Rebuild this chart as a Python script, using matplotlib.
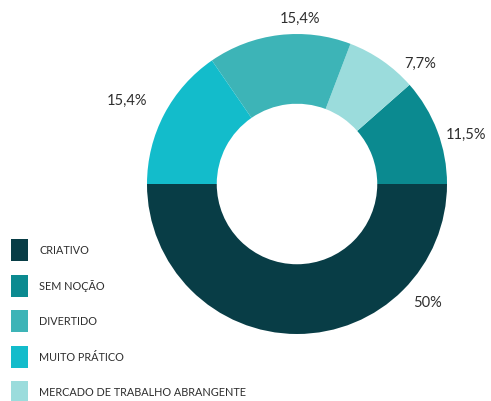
import matplotlib
matplotlib.use("Agg")
import matplotlib.pyplot as plt
from matplotlib.patches import Rectangle

# pie order runs counter-clockwise from the left edge
categories = ["CRIATIVO", "SEM NOÇÃO", "MERCADO DE TRABALHO ABRANGENTE",
              "DIVERTIDO", "MUITO PRÁTICO"]
values = [50.0, 11.5, 7.7, 15.4, 15.4]
colors = ["#083d46", "#0b8a90", "#9bdcdc", "#3db4b7", "#13bccb"]

# legend order
legend_order = ["CRIATIVO", "SEM NOÇÃO", "DIVERTIDO", "MUITO PRÁTICO",
                "MERCADO DE TRABALHO ABRANGENTE"]

W, H = 491, 402
fig = plt.figure(figsize=(W / 100, H / 100), dpi=100)
ax = fig.add_axes([0, 0, 1, 1])

cx, cy, R = 297, H - 185, 150
ax.pie(values, colors=colors, startangle=180, counterclock=True,
       center=(cx, cy), radius=R,
       wedgeprops=dict(width=R * 0.465, linewidth=0))
ax.set_xlim(0, W)
ax.set_ylim(0, H)
ax.set_aspect("equal")
ax.axis("off")

fmt = lambda v: (f"{v:.1f}".rstrip("0").rstrip(".") + "%").replace(".", ",")

# value label positions (pixels from top-left)
label_pos = {
    "CRIATIVO": (428, 303),
    "SEM NOÇÃO": (466, 135),
    "MERCADO DE TRABALHO ABRANGENTE": (420, 64),
    "DIVERTIDO": (300, 19),
    "MUITO PRÁTICO": (127, 101),
}
font = dict(family=["Lato", "DejaVu Sans"], color="#2e2e2e")
for cat, v in zip(categories, values):
    x, y = label_pos[cat]
    ax.text(x, H - y, fmt(v), ha="center", va="center", fontsize=10.5, **font)

# legend swatches
col = dict(zip(categories, colors))
for i, cat in enumerate(legend_order):
    yc = 251 + i * 35.5
    ax.add_patch(Rectangle((11, H - yc - 11), 17, 22, color=col[cat], linewidth=0))
    ax.text(39, H - yc, cat, ha="left", va="center", fontsize=7.8, **font)

fig.savefig("out.png", dpi=100)
